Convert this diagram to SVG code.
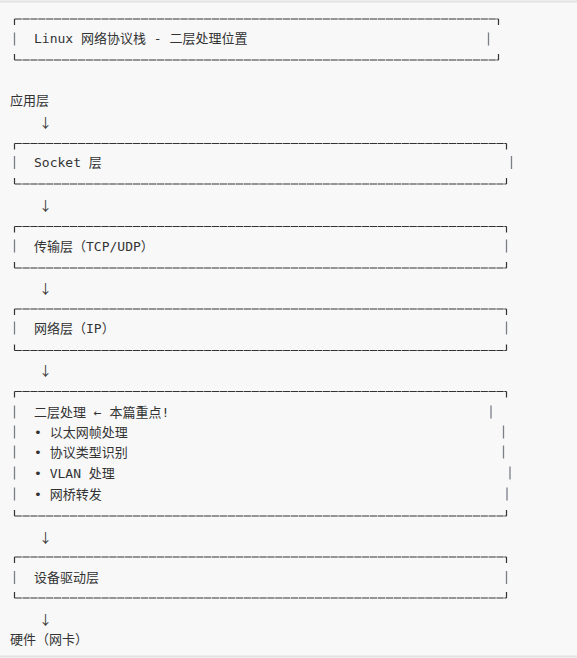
<svg xmlns="http://www.w3.org/2000/svg" width="577" height="658" viewBox="0 0 577 658">
<style>
.bg{fill:#f8f8f9}
.edge{stroke:#e2e2e4;stroke-width:2}
.hl{stroke:#333;stroke-width:1.2;fill:none;stroke-dasharray:7.3 0.6}
.ck{stroke:#333;stroke-width:1.2;fill:none}
.vb{stroke:#7a7f88;stroke-width:1.3;fill:none}
.t{font-family:"DejaVu Sans Mono","Noto Sans CJK SC",monospace;font-size:13px;fill:#333}
.a{font-family:"Noto Sans CJK SC",sans-serif;font-size:13px;fill:#333;text-anchor:middle}
</style>
<rect class="bg" x="0" y="0" width="577" height="658"/>
<line class="edge" x1="0" y1="1.5" x2="577" y2="1.5"/>
<line class="edge" x1="0" y1="656.5" x2="577" y2="656.5"/>

<g id="title">
<path class="hl" d="M14.5 19H498.5M14.5 60H498.5"/>
<path class="ck" d="M14.5 19V25M498.5 19V25M14.5 60V54M498.5 60V54"/>
<path class="vb" d="M14.5 32.5V45.5M488.5 32.5V45.5"/>
<text class="t" x="34" y="43">Linux 网络协议栈 - 二层处理位置</text>
</g>

<g id="app">
<text class="t" x="10" y="105">应用层</text>
</g>

<g id="socket">
<path class="hl" d="M14.5 143.5H506.5M14.5 184H506.5"/>
<path class="ck" d="M14.5 143.5V149.5M506.5 143.5V149.5M14.5 184V178M506.5 184V178"/>
<path class="vb" d="M14.5 156V169M511.5 156V169"/>
<text class="t" x="34" y="166.5">Socket 层</text>
</g>

<g id="transport">
<path class="hl" d="M14.5 226.5H506.5M14.5 268H506.5"/>
<path class="ck" d="M14.5 226.5V232.5M506.5 226.5V232.5M14.5 268V262M506.5 268V262"/>
<path class="vb" d="M14.5 239.5V252.5M506.5 239.5V252.5"/>
<text class="t" x="34" y="250.5">传输层（TCP/UDP）</text>
</g>

<g id="network">
<path class="hl" d="M14.5 309H506.5M14.5 350.5H506.5"/>
<path class="ck" d="M14.5 309V315M506.5 309V315M14.5 350.5V344.5M506.5 350.5V344.5"/>
<path class="vb" d="M14.5 321.5V334.5M506.5 321.5V334.5"/>
<text class="t" x="34" y="332.5">网络层（IP）</text>
</g>

<g id="l2">
<path class="hl" d="M14.5 391.5H506.5M14.5 516H506.5"/>
<path class="ck" d="M14.5 391.5V397.5M506.5 391.5V397.5M14.5 516V510M506.5 516V510"/>
<path class="vb" d="M14.5 405.5V418.5M491 405.5V418.5M14.5 425.5V438.5M503.5 425.5V438.5M14.5 445.5V458.5M503.5 445.5V458.5M14.5 466.5V479.5M510 466.5V479.5M14.5 487.5V500.5M507 487.5V500.5"/>
<text class="t" x="34" y="416.5">二层处理 ← 本篇重点!</text>
<text class="t" x="34" y="436.5">• 以太网帧处理</text>
<text class="t" x="34" y="456.5">• 协议类型识别</text>
<text class="t" x="34" y="477.5">• VLAN 处理</text>
<text class="t" x="34" y="498.5">• 网桥转发</text>
</g>

<g id="driver">
<path class="hl" d="M14.5 557H506.5M14.5 598H506.5"/>
<path class="ck" d="M14.5 557V563M506.5 557V563M14.5 598V592M506.5 598V592"/>
<path class="vb" d="M14.5 571V584M506.5 571V584"/>
<text class="t" x="34" y="581.5">设备驱动层</text>
</g>

<g id="hardware">
<text class="t" x="10" y="643.5">硬件（网卡）</text>
</g>

<g id="connectors">
<text class="a" x="45.5" y="127">↓</text>
<text class="a" x="45.5" y="210">↓</text>
<text class="a" x="45.5" y="293">↓</text>
<text class="a" x="45.5" y="375">↓</text>
<text class="a" x="45.5" y="542">↓</text>
<text class="a" x="45.5" y="624">↓</text>
</g>
</svg>
